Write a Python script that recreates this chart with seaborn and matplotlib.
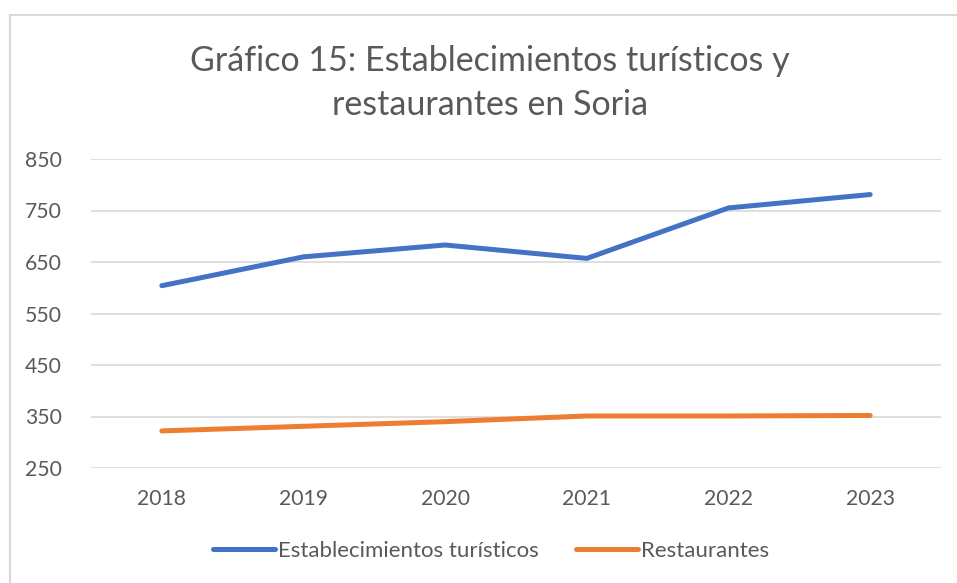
import pandas as pd
import seaborn as sns
import matplotlib.pyplot as plt
from matplotlib.lines import Line2D

years = ['2018', '2019', '2020', '2021', '2022', '2023']
establecimientos = [604, 660, 683, 657, 755, 781]
restaurantes = [322, 331, 340, 351, 351, 352]
series_names = ['Establecimientos turísticos', 'Restaurantes']
y_ticks = [250, 350, 450, 550, 650, 750, 850]

df = pd.DataFrame({'Año': years * 2,
                   'Valor': establecimientos + restaurantes,
                   'Serie': [series_names[0]] * len(years) + [series_names[1]] * len(years)})

sns.set_style('white')
plt.rcParams['font.family'] = ['Lato', 'DejaVu Sans']
text_color = '#595959'
palette = {series_names[0]: '#4472C4', series_names[1]: '#ED7D31'}

fig = plt.figure(figsize=(9.57, 5.83), dpi=100)
ax = fig.add_axes([91 / 957, 1 - 468 / 583, 850 / 957, 309 / 583])

sns.lineplot(data=df, x='Año', y='Valor', hue='Serie', palette=palette, ax=ax,
             linewidth=3.6, solid_capstyle='round', legend=False, sort=False)

ax.set_xlim(-0.5, len(years) - 0.5)
ax.set_ylim(250, 850)
ax.set_yticks(y_ticks)
ax.yaxis.grid(True, color='#D9D9D9', linewidth=1.2)
ax.set_axisbelow(True)
for s in ax.spines.values():
    s.set_visible(False)
ax.set_xlabel('')
ax.set_ylabel('')
ax.tick_params(axis='both', length=0, labelsize=15.2, labelcolor=text_color)
ax.tick_params(axis='y', pad=21)
ax.tick_params(axis='x', pad=15)

fig.text(0.512, 1 - 83 / 583, 'Gráfico 15: Establecimientos turísticos y\nrestaurantes en Soria',
         ha='center', va='center', fontsize=24.5, color=text_color, linespacing=1.45)

handles = [Line2D([0], [0], color=palette[n], linewidth=3.6, solid_capstyle='round') for n in series_names]
fig.legend(handles, series_names, loc='center', bbox_to_anchor=(491 / 957, 1 - 551 / 583), ncol=2,
           frameon=False, fontsize=16, labelcolor=text_color, handlelength=2.8,
           handletextpad=0.1, columnspacing=1.7)

# outer chart border (left and top visible)
fig.add_artist(plt.Rectangle((10 / 957, -0.1), 1.2, 1 - 15 / 583 + 0.1, transform=fig.transFigure,
                             fill=False, edgecolor='#D9D9D9', linewidth=1.5))

fig.savefig('out.png', dpi=100)
